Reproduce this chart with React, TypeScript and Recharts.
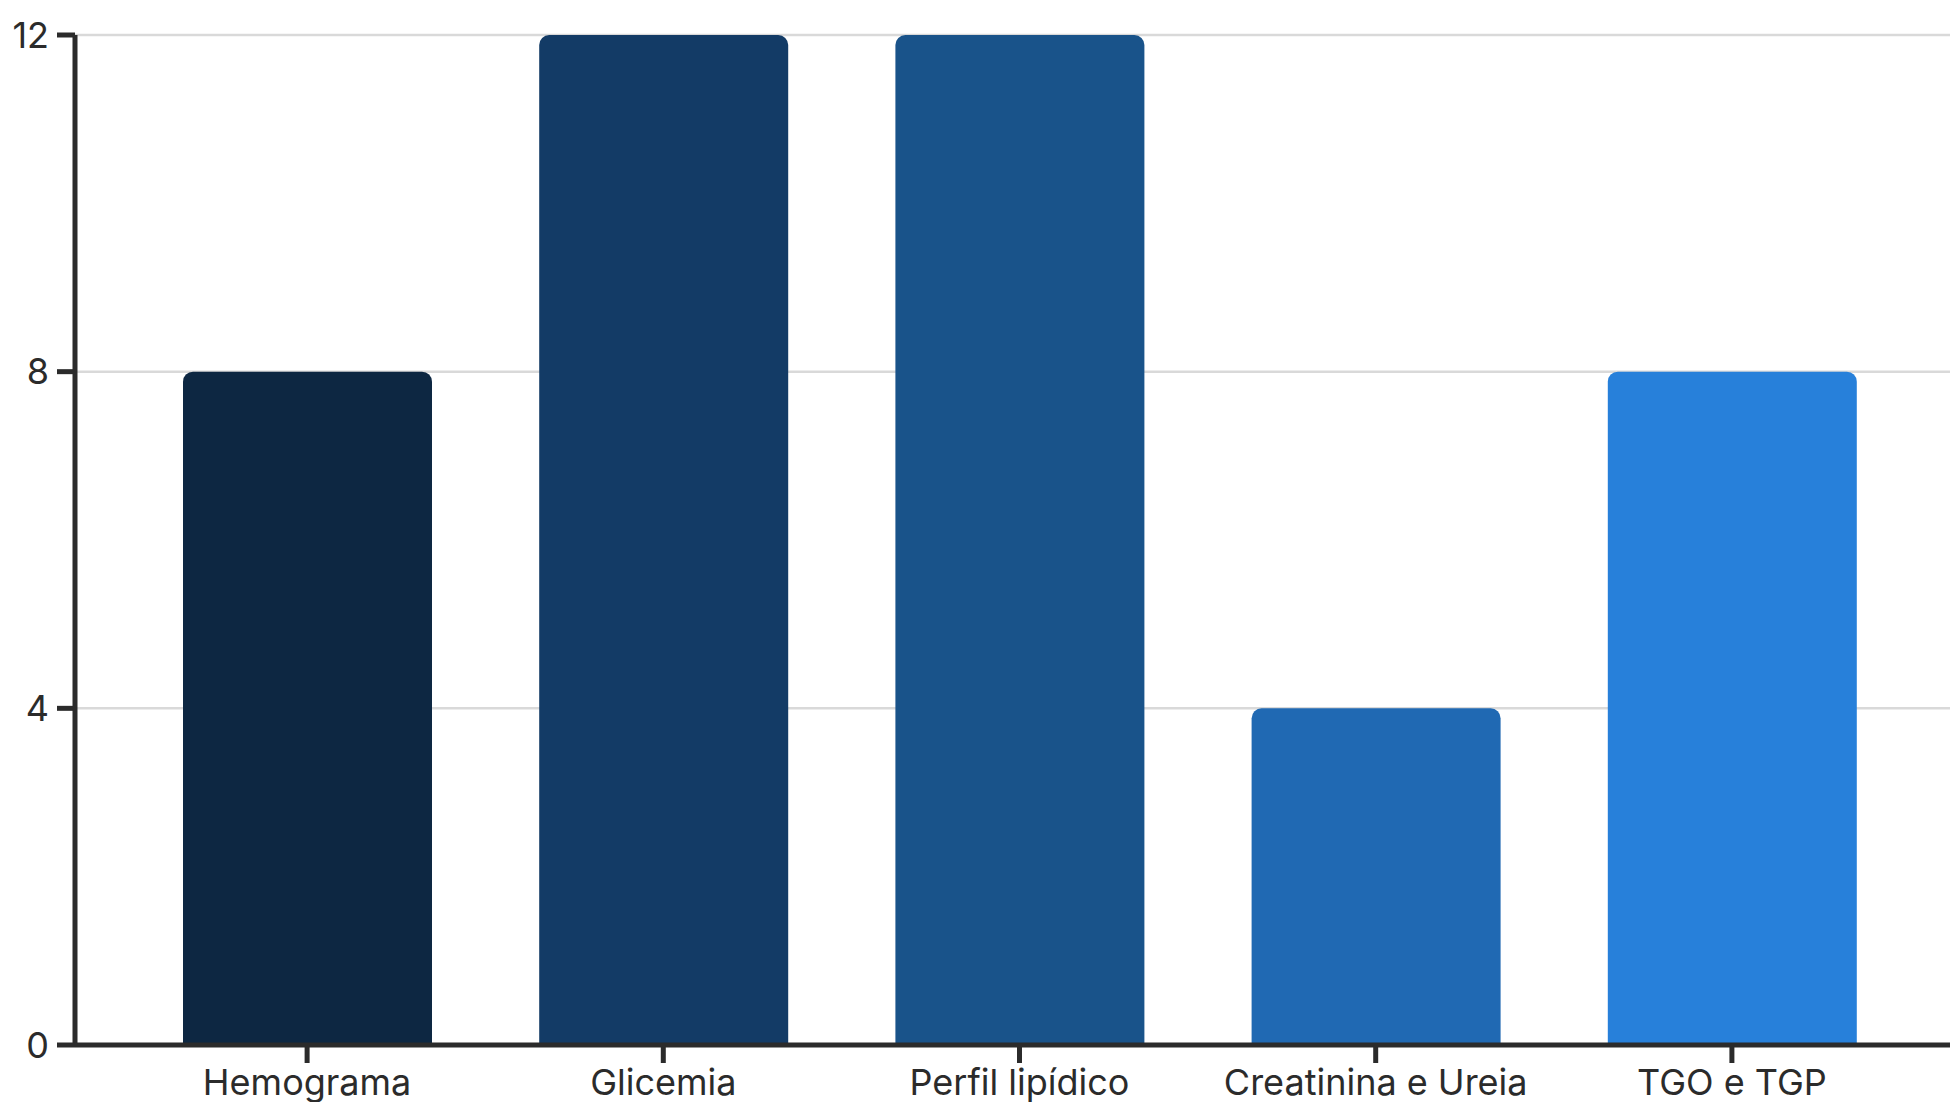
import { BarChart, Bar, XAxis, YAxis, CartesianGrid, Cell } from "recharts";

const categories = ["Hemograma", "Glicemia", "Perfil lipídico", "Creatinina e Ureia", "TGO e TGP"];
const values = [8, 12, 12, 4, 8];
const barColors = ["#0d2742", "#133b66", "#19538a", "#2069b3", "#2780da"];
const yTicks = [0, 4, 8, 12];

const data = categories.map((name, i) => ({ name, value: values[i] }));

/* Shared axis config */
const axisTick = { fontSize: 36, fill: "#2b2b2b", fontFamily: "Inter, 'Noto Sans', sans-serif" };
const axisLine = { stroke: "#2b2b2b", strokeWidth: 5 };
const tickLine = { stroke: "#2b2b2b", strokeWidth: 5 };

export default function App() {
  return (
    <div style={{ position: "absolute", left: 0, top: 0, width: 1950, height: 1102, background: "#fff" }}>
      <BarChart
        width={1950}
        height={1102}
        data={data}
        margin={{ top: 35, right: 0, left: 0, bottom: 0 }}
      >
        <CartesianGrid vertical={false} stroke="#d9d9d9" strokeWidth={2.5} />
        <XAxis
          dataKey="name"
          tick={axisTick}
          axisLine={axisLine}
          tickLine={tickLine}
          tickSize={18}
          tickMargin={6}
          height={57}
          padding={{ left: 54, right: 40 }}
          interval={0}
        />
        <YAxis
          ticks={yTicks}
          domain={[0, 12]}
          tick={axisTick}
          axisLine={axisLine}
          tickLine={tickLine}
          tickSize={18}
          tickMargin={8}
          width={75}
        />
        <Bar dataKey="value" barSize={249} radius={[10, 10, 0, 0]} isAnimationActive={false}>
          {data.map((d, i) => (
            <Cell key={d.name} fill={barColors[i]} />
          ))}
        </Bar>
      </BarChart>
    </div>
  );
}
